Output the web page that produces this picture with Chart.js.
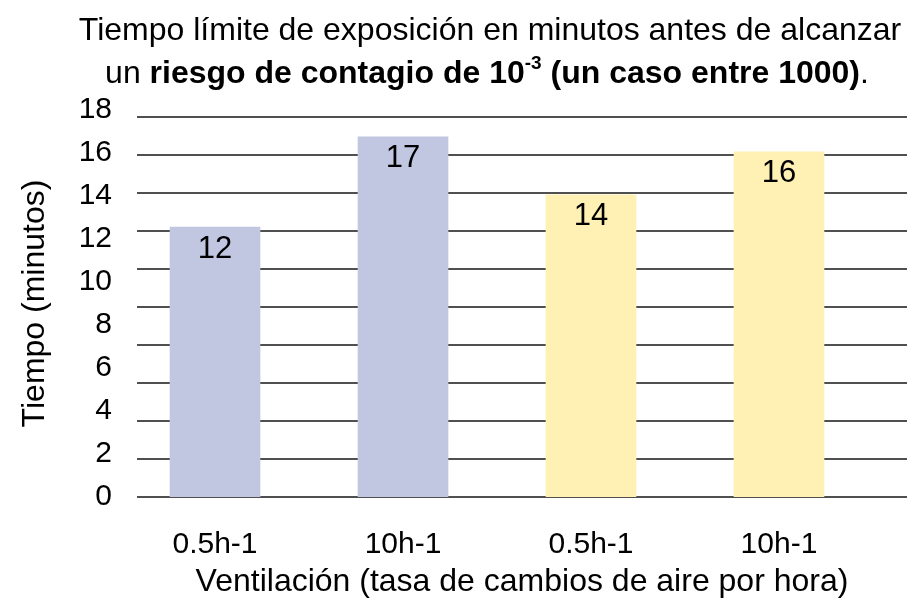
<!DOCTYPE html>
<html>
<head>
<meta charset="utf-8">
<script src="https://cdn.jsdelivr.net/npm/chart.js@4"></script>
<style>
  html, body { margin: 0; padding: 0; background: #fff; }
  #wrap { width: 907px; height: 598px; }
</style>
</head>
<body>
<div id="wrap"><canvas id="chart" width="907" height="598"></canvas></div>
<script>
// Data
const categories = ["0.5h-1", "10h-1", "0.5h-1", "10h-1"];
const tiempos = [12.55, 16.75, 14.05, 16.05];
const valueLabels = ["12", "17", "14", "16"];
const yTicks = [0, 2, 4, 6, 8, 10, 12, 14, 16, 18];
const gridTicks = [0, 2, 4, 6, 8, 10, 12, 14, 16, 18, 20];

const FONT = "'Liberation Sans', Arial, Helvetica, sans-serif";
const barColors = ["#c1c6e1", "#c1c6e1", "#fff0b4", "#fff0b4"];

// Two-line title with bold run and superscript
const titlePlugin = {
  id: "richTitle",
  afterDraw(chart) {
    const c = chart.ctx;
    c.save();
    c.fillStyle = "#000";
    c.textBaseline = "middle";
    c.textAlign = "left";
    const size = 32;
    const reg = `${size}px ${FONT}`;
    const bold = `bold ${size}px ${FONT}`;
    const sup = `bold ${Math.round(size * 0.6)}px ${FONT}`;

    const line1 = "Tiempo límite de exposición en minutos antes de alcanzar";
    c.font = reg;
    const w1 = c.measureText(line1).width;
    c.fillText(line1, 490 - w1 / 2, 31);

    const parts = [
      { t: "un ", f: reg, dy: 0 },
      { t: "riesgo de contagio de 10", f: bold, dy: 0 },
      { t: "-3", f: sup, dy: -10 },
      { t: " (un caso entre 1000)", f: bold, dy: 0 },
      { t: ".", f: reg, dy: 0 },
    ];
    let total = 0;
    parts.forEach((p) => {
      c.font = p.f;
      p.w = c.measureText(p.t).width;
      total += p.w;
    });
    let x = 487 - total / 2;
    parts.forEach((p) => {
      c.font = p.f;
      c.fillText(p.t, x, 74 + p.dy);
      x += p.w;
    });
    c.restore();
  },
};

// Value labels just inside the top of each bar
const valuePlugin = {
  id: "valueLabels",
  afterDatasetsDraw(chart) {
    const c = chart.ctx;
    const meta = chart.getDatasetMeta(0);
    c.save();
    c.font = `31px ${FONT}`;
    c.fillStyle = "#000";
    c.textAlign = "center";
    c.textBaseline = "middle";
    meta.data.forEach((bar, i) => {
      c.fillText(valueLabels[i], bar.x, bar.y + 22);
    });
    c.restore();
  },
};

new Chart(document.getElementById("chart"), {
  type: "bar",
  data: {
    labels: categories.map((_, i) => i),
    datasets: [
      {
        data: tiempos,
        backgroundColor: barColors,
        borderWidth: 0,
        barThickness: 90,
        yAxisID: "y",
      },
    ],
  },
  options: {
    responsive: false,
    animation: false,
    layout: { padding: { top: 110, right: 0, left: 0, bottom: 0 } },
    plugins: {
      legend: { display: false },
      tooltip: { enabled: false },
    },
    scales: {
      x: {
        type: "linear",
        offset: false,
        min: -0.415,
        max: 3.681,
        afterBuildTicks: (scale) => {
          scale.ticks = categories.map((_, i) => ({ value: i }));
        },
        afterFit: (scale) => {
          scale.height = 101;
        },
        grid: { display: false, drawTicks: false },
        border: { display: false },
        ticks: {
          color: "#000",
          font: { family: FONT, size: 30 },
          padding: 30,
          maxRotation: 0,
          autoSkip: false,
          callback: (v) => categories[v],
        },
        title: {
          display: true,
          text: "Ventilación (tasa de cambios de aire por hora)",
          color: "#000",
          font: { family: FONT, size: 32, lineHeight: 1 },
          padding: { top: 0, bottom: 0 },
        },
      },
      y: {
        position: "left",
        min: 0,
        max: 18,
        afterBuildTicks: (scale) => {
          scale.ticks = yTicks.map((v) => ({ value: v }));
        },
        afterFit: (scale) => {
          scale.width = 137;
        },
        grid: { display: false, drawTicks: false },
        border: { display: false },
        ticks: {
          color: "#000",
          font: { family: FONT, size: 30 },
          padding: 25,
        },
        title: {
          display: true,
          text: "Tiempo (minutos)",
          color: "#000",
          font: { family: FONT, size: 32, lineHeight: 1 },
          padding: { top: 19, bottom: 0 },
        },
      },
      grid: {
        position: "right",
        min: 0,
        max: 20.37,
        afterBuildTicks: (scale) => {
          scale.ticks = gridTicks.map((v) => ({ value: v }));
        },
        afterFit: (scale) => {
          scale.width = 0;
        },
        grid: { color: "#505050", lineWidth: 2, drawTicks: false },
        border: { display: false },
        ticks: { display: false },
      },
    },
  },
  plugins: [titlePlugin, valuePlugin],
});
</script>
</body>
</html>
